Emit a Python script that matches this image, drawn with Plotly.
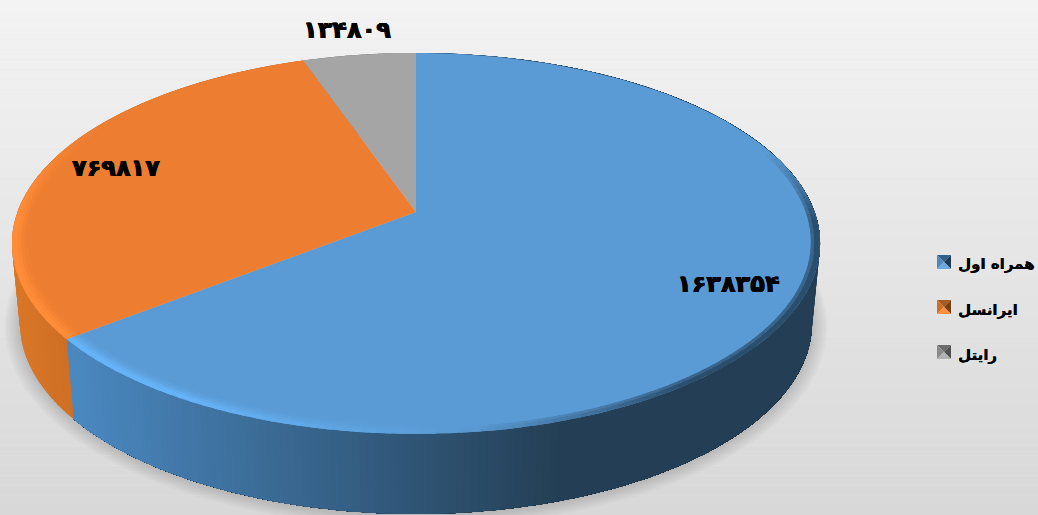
import math
import plotly.graph_objects as go

categories = ["همراه اول", "ایرانسل", "رایتل"]
values = [1638354, 769817, 134809]
top_colors = ["#5b9bd5", "#ed7d31", "#a5a5a5"]
highlight_colors = ["#66b4f8", "#ff8c38", "#b8b8b8"]
swatch_shades = [
    ["#2f5f8a", "#5088bc", "#1d3b55", "#6aa8e0"],
    ["#a85a22", "#cf6f25", "#74400f", "#f88e3e"],
    ["#6c6c6c", "#8a8a8a", "#505050", "#b2b2b2"],
]
label_pos = [(728, 284), (116, 168), (347, 30)]

W, H = 1038, 515
CX, CY, A, B, C = 416, 212, 398.5, 185.3, 0.165
DROP, SHRINK = 80, 0.98
FA = "DejaVu Sans"


def hex2rgb(h):
    return tuple(int(h[i:i + 2], 16) for i in (1, 3, 5))


def mix(c1, c2, t):
    t = max(0, min(1, t))
    a, b = hex2rgb(c1), hex2rgb(c2)
    return "#%02x%02x%02x" % tuple(round(a[i] + (b[i] - a[i]) * t) for i in range(3))


def proj(f, r=1.0):
    th = 2 * math.pi * f
    u, v = r * math.sin(th), -r * math.cos(th)
    d = 1 - C * v
    return CX + A * u / d, CY + B * v / d


def lower(p):
    return CX + (p[0] - CX) * SHRINK, p[1] + DROP


def arc(f0, f1, r=1.0, step=0.004):
    n = max(2, int(abs(f1 - f0) / step) + 1)
    return [proj(f0 + (f1 - f0) * i / (n - 1), r) for i in range(n)]


fig = go.Figure()


def poly(pts, color, lw=0.0):
    xs = [p[0] for p in pts] + [pts[0][0]]
    ys = [p[1] for p in pts] + [pts[0][1]]
    fig.add_trace(go.Scatter(x=xs, y=ys, mode="lines", fill="toself", fillcolor=color,
                             line=dict(color=color, width=lw), hoverinfo="skip", showlegend=False))


total = sum(values)
edges = [0]
for val in values:
    edges.append(edges[-1] + val / total)

# soft shadow
ring = [lower(p) for p in arc(0, 1)]
for k in range(7, 0, -1):
    pts = [(CX + (x - CX) * (1 + k * 0.0055), 260 + (y - 260) * (1 + k * 0.0075)) for x, y in ring]
    poly(pts, "rgba(60,60,60,0.032)")

# side walls: each strip overlaps the next so no seam shows
for i, (f0, f1) in enumerate(zip(edges[:-1], edges[1:])):
    n = max(2, int((f1 - f0) / 0.0025))
    for j in range(n):
        a = f0 + (f1 - f0) * j / n
        b = min(f1, f0 + (f1 - f0) * (j + 1) / n + 0.003)
        if i == 0:
            b = f1
        top = arc(a, b, 1, 0.002)
        bot = [lower(p) for p in reversed(top)]
        xm = proj(a + 0.00125)[0]
        if i == 0:
            col = mix("#4a88c0", "#243f55", (xm - 73) / (560 - 73))
        elif i == 1:
            col = mix("#d97628", "#cc6e24", (xm - 15) / 60)
        else:
            col = "#8a8a8a"
        poly(top + bot, col)

# top faces
for i, (f0, f1) in enumerate(zip(edges[:-1], edges[1:])):
    poly([(CX, CY)] + arc(f0, f1), top_colors[i])

# bevel on the rim: concentric rings fading into the face
rings = [(0.962, 0.970, 0.15), (0.970, 0.978, 0.4), (0.978, 0.986, 0.7), (0.986, 1.0, 1.0)]
for i, (f0, f1) in enumerate(zip(edges[:-1], edges[1:])):
    n = max(2, int((f1 - f0) / 0.005))
    for j in range(n):
        a = f0 + (f1 - f0) * j / n
        b = min(f1, f0 + (f1 - f0) * (j + 1) / n + 0.002)
        m = 2 * math.pi * (a + 0.0025)
        u, v = math.sin(m), -math.cos(m)
        w = max(0, min(1, (v + 0.5) / 0.5))
        light = max(0, min(1, -u * 1.7 + 0.1)) * w
        dark = max(0, min(1, (u - 0.1) * 2.0)) * max(0, min(1, (v + 0.35) / 0.4))
        if light <= 0.01 and dark <= 0.01:
            continue
        for r0, r1, s in rings:
            if light > 0:
                col = mix(top_colors[i], highlight_colors[i], light * s)
            else:
                if r0 < 0.975:
                    continue
                col = mix(top_colors[i], "#2b4e6c", dark * s)
            outer = arc(a, b, r1, 0.002)
            inner = list(reversed(arc(a, b, r0, 0.002)))
            poly(outer + inner, col)

# legend swatches
for i, sy in enumerate([255, 300, 345]):
    x0, x1, y0, y1 = 937, 951, sy, sy + 14
    mx, my = (x0 + x1) / 2, (y0 + y1) / 2
    shades = swatch_shades[i]
    poly([(x0, y0), (x1, y0), (mx, my)], shades[0])
    poly([(x0, y0), (x0, y1), (mx, my)], shades[1])
    poly([(x1, y0), (x1, y1), (mx, my)], shades[2])
    poly([(x0, y1), (x1, y1), (mx, my)], shades[3])

# legend entries
for i, name in enumerate(categories):
    fig.add_trace(go.Scatter(x=[None], y=[None], mode="markers", name=name, legendgroup=name,
                             marker=dict(symbol="square", size=12, color="rgba(0,0,0,0)")))

PERSIAN = str.maketrans("0123456789", "۰۱۲۳۴۵۶۷۸۹")
THICK = "0.5px 0 0 black, -0.5px 0 0 black, 0 0.4px 0 black"
annotations = [dict(x=p[0], y=p[1], xref="x", yref="y", text="<b>%s</b>" % str(v).translate(PERSIAN),
                    showarrow=False, font=dict(family=FA, size=24, color="black", shadow=THICK))
               for v, p in zip(values, label_pos)]

# page background: soft vertical gradient
bands = 52
shapes = [dict(type="rect", xref="x", yref="y", x0=0, x1=W, y0=H * k / bands, y1=H * (k + 1) / bands,
               layer="below", line=dict(width=0), fillcolor=mix("#f3f3f3", "#d8d8d8", k / (bands - 1)))
          for k in range(bands)]

fig.update_layout(
    width=W, height=H, autosize=False, margin=dict(l=0, r=0, t=0, b=0, autoexpand=False),
    paper_bgcolor="#e6e6e6", plot_bgcolor="rgba(0,0,0,0)",
    xaxis=dict(range=[0, W], visible=False, fixedrange=True),
    yaxis=dict(range=[H, 0], visible=False, fixedrange=True),
    shapes=shapes, annotations=annotations,
    legend=dict(x=918 / W, y=1 - 247 / H, xanchor="left", yanchor="top", bgcolor="rgba(0,0,0,0)",
                font=dict(family=FA, size=15, color="black", weight="bold", shadow="0.3px 0 0 black"),
                tracegroupgap=23, itemclick=False, itemdoubleclick=False),
    showlegend=True,
)
fig.write_html("out.html", config={"displayModeBar": False, "responsive": False},
               post_script="document.body.style.margin='0';document.documentElement.style.overflow='hidden';")
